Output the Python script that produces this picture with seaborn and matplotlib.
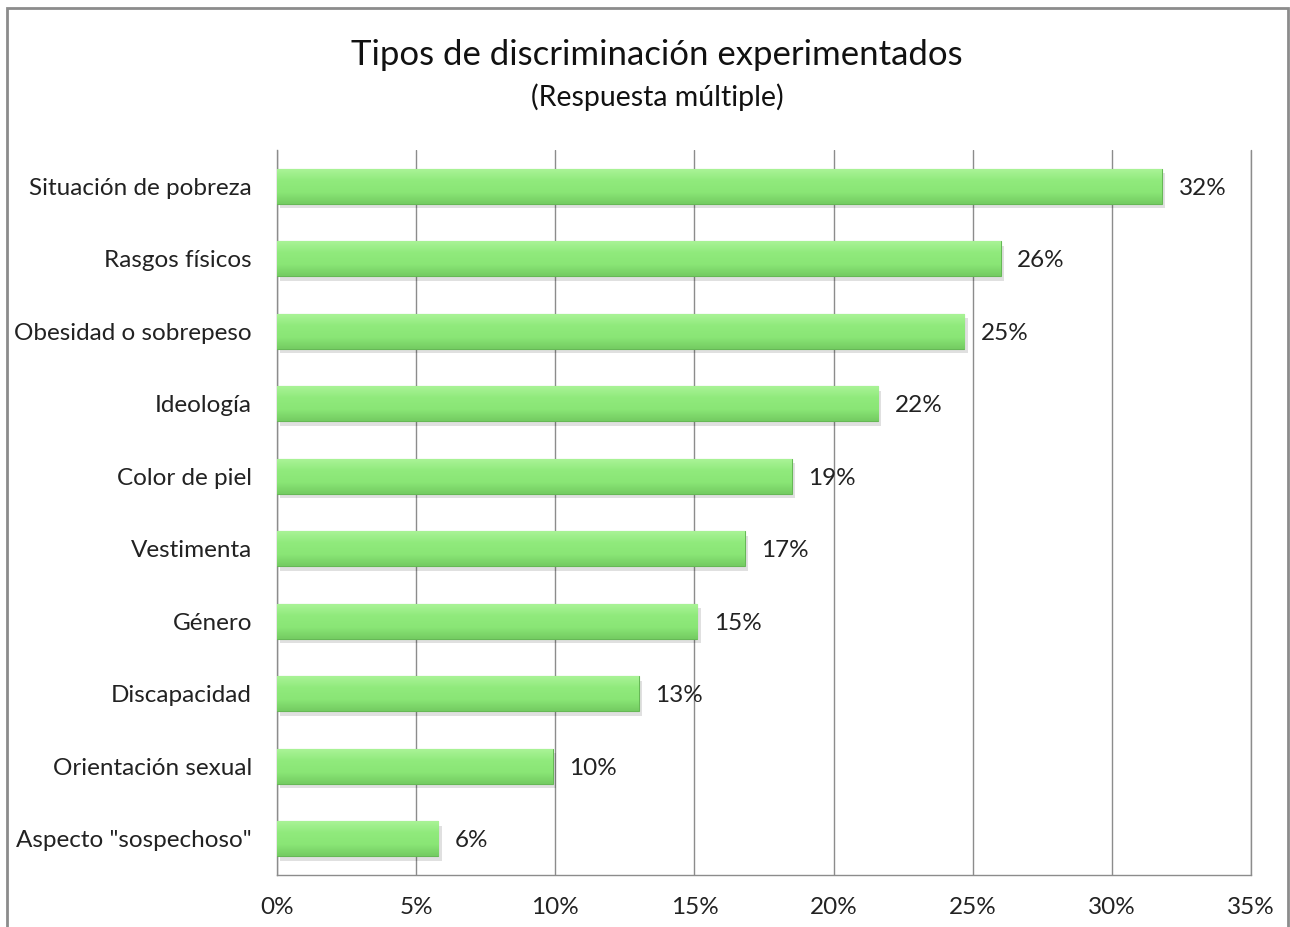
import matplotlib
matplotlib.use("Agg")
import matplotlib.pyplot as plt
import seaborn as sns
import numpy as np
import pandas as pd
from matplotlib.patches import Rectangle

# data
categories = ["Situación de pobreza", "Rasgos físicos", "Obesidad o sobrepeso",
              "Ideología", "Color de piel", "Vestimenta", "Género",
              "Discapacidad", "Orientación sexual", 'Aspecto "sospechoso"']
values = [31.8, 26.0, 24.7, 21.6, 18.5, 16.8, 15.1, 13.0, 9.9, 5.8]
labels = ["32%", "26%", "25%", "22%", "19%", "17%", "15%", "13%", "10%", "6%"]
x_ticks = [0, 5, 10, 15, 20, 25, 30, 35]

df = pd.DataFrame({"tipo": categories, "pct": values})

sns.set_theme(style="white")
plt.rcParams["font.family"] = ["Lato", "DejaVu Sans"]

fig = plt.figure(figsize=(12.9, 9.27), dpi=100)
ax = fig.add_axes([277 / 1290, 1 - 875 / 927, (1251 - 277) / 1290, (875 - 150) / 927])

sns.barplot(data=df, x="pct", y="tipo", orient="h", color="#8EE87A",
            width=0.48, saturation=1, edgecolor="#66B856", linewidth=0.8,
            ax=ax, zorder=3)

# bevel-ish gradient + soft shadow on each bar
grad = np.linspace(0, 1, 64).reshape(-1, 1)
cmap = matplotlib.colors.LinearSegmentedColormap.from_list(
    "g", ["#A9F396", "#90EA7C", "#8AE676", "#74CC62"])
for p in ax.patches:
    x0, y0 = p.get_x(), p.get_y()
    w, h = p.get_width(), p.get_height()
    sh = Rectangle((x0 + 0.12, y0 + 0.06), w, h, color="#000000", alpha=0.12,
                   zorder=2, linewidth=0)
    ax.add_patch(sh)
    im = ax.imshow(grad, extent=[x0, x0 + w, y0 + h, y0], aspect="auto",
                   cmap=cmap, zorder=3.5)
    im.set_clip_path(p)

fs = 17.5
for i, (v, lab) in enumerate(zip(values, labels)):
    ax.text(v + 0.6, i, lab, va="center_baseline", ha="left", fontsize=fs, color="#222222")

ax.set_xlim(0, 35)
ax.set_ylim(len(categories) - 0.5, -0.5)
ax.set_xticks(x_ticks)
ax.set_xticklabels([f"{t}%" for t in x_ticks], fontsize=fs, color="#222222")
ax.tick_params(axis="y", labelsize=fs, labelcolor="#222222", pad=18, length=0)
ax.tick_params(axis="x", pad=16, length=0)
ax.set_xlabel("")
ax.set_ylabel("")
ax.xaxis.grid(True, color="#8C8C8C", linewidth=1)
ax.axvline(35, color="#8C8C8C", linewidth=1, clip_on=False, zorder=1)
ax.set_axisbelow(True)
for s in ["top", "right"]:
    ax.spines[s].set_visible(False)
for s in ["left", "bottom"]:
    ax.spines[s].set_color("#8C8C8C")
    ax.spines[s].set_linewidth(1)

fig.text(0.5 + 12 / 1290, 1 - 55 / 927, "Tipos de discriminación experimentados",
         ha="center", va="center", fontsize=25, color="#111111")
fig.text(0.5 + 12 / 1290, 1 - 97 / 927, "(Respuesta múltiple)",
         ha="center", va="center", fontsize=20.5, color="#111111")

# outer chart border (bottom edge is cut off in the reference)
fig.patches.append(Rectangle((7 / 1290, -0.02), (1288 - 7) / 1290, 1 - 8 / 927 + 0.02,
                             transform=fig.transFigure, fill=False,
                             edgecolor="#8C8C8C", linewidth=2))

fig.savefig("out.png", dpi=100)
